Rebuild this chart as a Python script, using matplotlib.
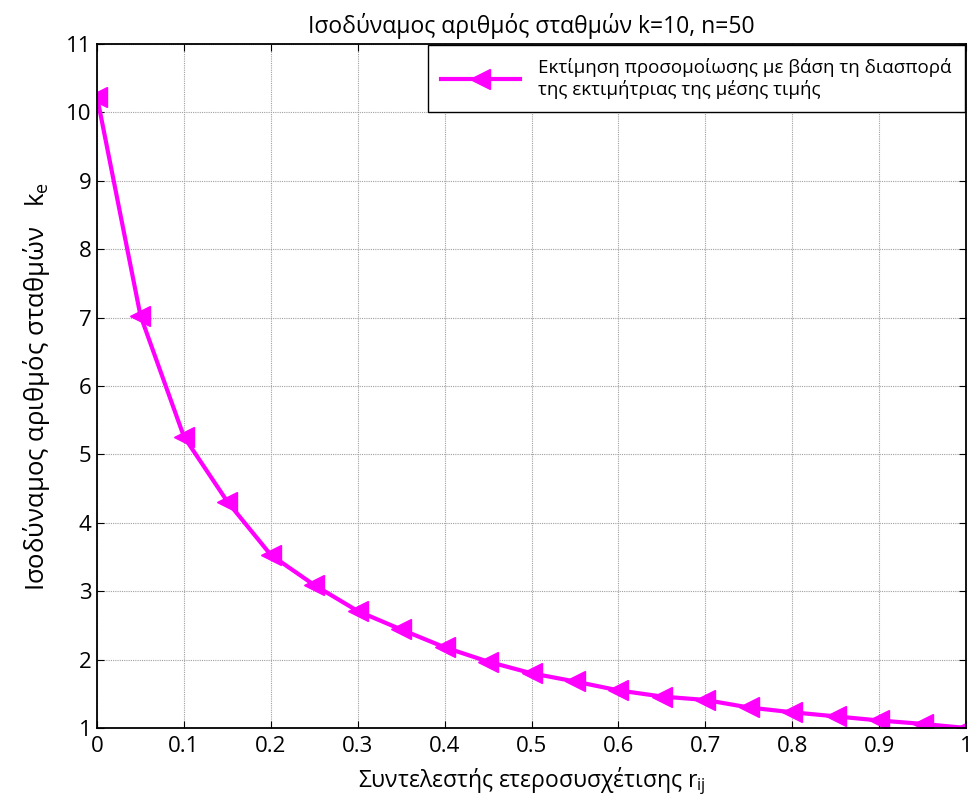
import matplotlib
matplotlib.use("Agg")
import matplotlib.pyplot as plt

plt.rcParams['font.family'] = ['Open Sans', 'DejaVu Sans']

# συντελεστής ετεροσυσχέτισης και ισοδύναμος αριθμός σταθμών
r_ij = [0.0, 0.05, 0.1, 0.15, 0.2, 0.25, 0.3, 0.35, 0.4, 0.45, 0.5,
        0.55, 0.6, 0.65, 0.7, 0.75, 0.8, 0.85, 0.9, 0.95, 1.0]
k_e = [10.23, 7.03, 5.26, 4.31, 3.53, 3.09, 2.71, 2.44, 2.18, 1.97, 1.80,
       1.68, 1.55, 1.46, 1.41, 1.30, 1.23, 1.17, 1.11, 1.06, 1.00]

xticks = [0, 0.1, 0.2, 0.3, 0.4, 0.5, 0.6, 0.7, 0.8, 0.9, 1]
xticklabels = ['0', '0.1', '0.2', '0.3', '0.4', '0.5', '0.6', '0.7', '0.8', '0.9', '1']
yticks = list(range(1, 12))

fig = plt.figure(figsize=(9.7, 8.07), dpi=100)
ax = fig.add_axes([0.1, 0.0979, 0.8959, 0.8476])

ax.plot(r_ij, k_e, color='#ff00ff', linewidth=3, marker='<', markersize=15,
        label='Εκτίμηση προσομοίωσης με βάση τη διασπορά\nτης εκτιμήτριας της μέσης τιμής')

ax.set_xlim(0, 1)
ax.set_ylim(1, 11)
ax.set_xticks(xticks)
ax.set_xticklabels(xticklabels)
ax.set_yticks(yticks)
ax.tick_params(direction='in', top=True, right=True, labelsize=16, length=5)
ax.tick_params(axis='x', pad=6)
ax.tick_params(axis='y', pad=4)
ax.grid(True, linestyle=(0, (1, 1)), color='#a0a0a0', linewidth=0.8)
for s in ax.spines.values():
    s.set_linewidth(1.3)

ax.set_title('Ισοδύναμος αριθμός σταθμών k=10, n=50', fontsize=16.5, pad=8)
ax.set_xlabel(r'Συντελεστής ετεροσυσχέτισης $\mathregular{r_{ij}}$', fontsize=16.5, labelpad=6)
ax.set_ylabel(r'Ισοδύναμος αριθμός σταθμών   $\mathregular{k_e}$', fontsize=18.5, labelpad=10)

leg = ax.legend(loc='upper right', fontsize=13.5, fancybox=False, framealpha=1,
                edgecolor='black', borderaxespad=0.05, handlelength=4.2,
                borderpad=0.7, handletextpad=1.0)
leg.get_frame().set_linewidth(1.0)

fig.savefig('out.png', dpi=100)
